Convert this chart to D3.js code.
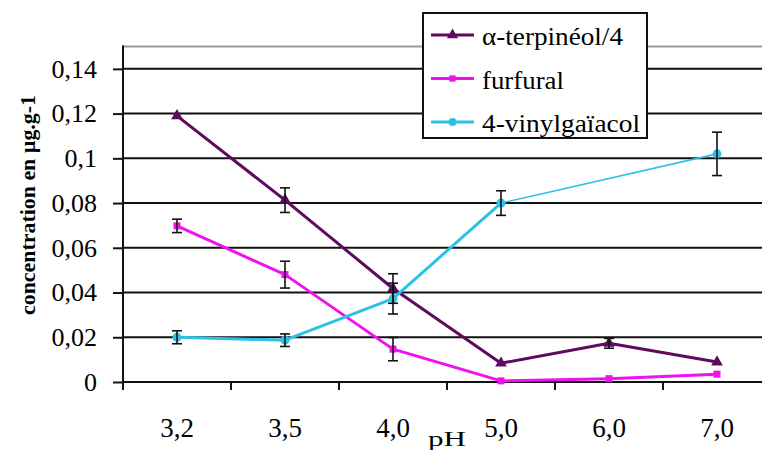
<!DOCTYPE html>
<html>
<head>
<meta charset="utf-8">
<script src="https://cdn.jsdelivr.net/npm/d3@7"></script>
<style>
  html, body { margin: 0; padding: 0; background: #fff; }
  svg { display: block; }
  svg text { font-family: "Liberation Serif", "DejaVu Serif", "Times New Roman", Times, serif !important; fill: #000; }
</style>
</head>
<body>
<svg id="chart" width="762" height="450"></svg>
<script>
// ---- data ----
const categories = ["3,2", "3,5", "4,0", "5,0", "6,0", "7,0"];
const seriesNames = ["α-terpinéol/4", "furfural", "4-vinylgaïacol"];
const terpineol = [0.119, 0.0813, 0.0418, 0.0084, 0.0173, 0.0089];
const terpineolErr = [0, 0.0055, 0.0066, 0, 0.0022, 0];
const furfural = [0.0698, 0.048, 0.0147, 0.0005, 0.0015, 0.0035];
const furfuralErr = [0.003, 0.006, 0.0052, 0, 0, 0];
const vinyl = [0.0200, 0.0187, 0.0373, 0.0800, null, 0.1020];
const vinylErr = [0.0029, 0.0028, 0.0069, 0.0055, 0, 0.0097];
const yTicks = [0, 0.02, 0.04, 0.06, 0.08, 0.1, 0.12, 0.14];
const yTickLabels = ["0", "0,02", "0,04", "0,06", "0,08", "0,1", "0,12", "0,14"];
const yMax = 0.15;
const xTitle = "pH";
const yTitle = "concentration en µg.g-1";

const series = [
  { name: seriesNames[0], values: terpineol, err: terpineolErr, color: "#5e0a5e", marker: "triangle" },
  { name: seriesNames[1], values: furfural, err: furfuralErr, color: "#f010f0", marker: "square" },
  { name: seriesNames[2], values: vinyl, err: vinylErr, color: "#2cc2e8", marker: "circle" }
];

// ---- layout ----
const svg = d3.select("#chart");
const pLeft = 123, pRight = 771, pTop = 46.5, pBottom = 382;
const FONT = "'Liberation Serif', 'DejaVu Serif', 'Times New Roman', serif";

const x = d3.scaleBand().domain(categories).range([pLeft, pRight]).padding(0);
const y = d3.scaleLinear().domain([0, yMax]).range([pBottom, pTop]);
const cx = c => x(c) + x.bandwidth() / 2;

// gridlines
svg.append("g").selectAll("line").data(yTicks.filter(t => t > 0)).join("line")
  .attr("x1", pLeft).attr("x2", pRight)
  .attr("y1", d => y(d)).attr("y2", d => y(d))
  .attr("stroke", "#111").attr("stroke-width", 2);

// top border (plot area)
svg.append("line").attr("x1", pLeft).attr("x2", pRight)
  .attr("y1", y(yMax)).attr("y2", y(yMax))
  .attr("stroke", "#9a9a9a").attr("stroke-width", 2);

// y axis
const yAxis = d3.axisLeft(y).tickValues(yTicks).tickSize(10).tickPadding(16)
  .tickFormat((d, i) => yTickLabels[i]);
const gy = svg.append("g").attr("transform", `translate(${pLeft},0)`).call(yAxis)
  .attr("font-family", FONT);
gy.select(".domain").remove();
gy.selectAll(".tick line").attr("stroke", "#111").attr("stroke-width", 2);
gy.selectAll(".tick text")
  .style("font-family", FONT)
  .attr("font-size", 26).attr("fill", "#222");
svg.append("line").attr("x1", pLeft).attr("x2", pLeft)
  .attr("y1", y(yMax) - 1).attr("y2", pBottom + 1)
  .attr("stroke", "#111").attr("stroke-width", 2);

// x axis
const xTickPos = categories.map(c => x(c)).concat([pRight]);
const gx = svg.append("g").attr("transform", `translate(0,${pBottom})`);
gx.append("line").attr("x1", pLeft).attr("x2", pRight).attr("y1", 0).attr("y2", 0)
  .attr("stroke", "#111").attr("stroke-width", 2);
gx.selectAll("line.tk").data(xTickPos).join("line").attr("class", "tk")
  .attr("x1", d => d).attr("x2", d => d).attr("y1", 0).attr("y2", 8)
  .attr("stroke", "#111").attr("stroke-width", 2);
gx.selectAll("text").data(categories).join("text")
  .attr("x", d => cx(d)).attr("y", 55)
  .attr("text-anchor", "middle")
  .style("font-family", FONT)
  .attr("font-size", 27).attr("fill", "#222")
  .text(d => d);

// axis titles
svg.append("text").attr("x", 447).attr("y", 446)
  .attr("text-anchor", "middle").attr("font-size", 22)
  .style("font-family", FONT)
  .attr("textLength", 38).attr("lengthAdjust", "spacingAndGlyphs")
  .text(xTitle);
svg.append("text")
  .attr("transform", "translate(35,205) rotate(-90)")
  .attr("text-anchor", "middle").attr("font-size", 20).attr("font-weight", "bold")
  .style("font-family", FONT)
  .attr("textLength", 220).attr("lengthAdjust", "spacingAndGlyphs")
  .text(yTitle);

// marker drawing
function drawMarker(g, type, px, py, color, scale) {
  const s = scale || 1;
  if (type === "triangle") {
    g.append("path").attr("d", d3.symbol(d3.symbolTriangle, 60 * s)())
      .attr("transform", `translate(${px},${py})`).attr("fill", color);
  } else if (type === "square") {
    g.append("rect").attr("x", px - 3.5 * s).attr("y", py - 3.5 * s)
      .attr("width", 7 * s).attr("height", 7 * s).attr("fill", color);
  } else {
    g.append("circle").attr("cx", px).attr("cy", py).attr("r", 4.5 * s).attr("fill", color);
  }
}

// series lines
const plot = svg.append("g");
series.forEach(s => {
  const pts = categories.map((c, i) => ({ c, v: s.values[i], e: s.err[i] }));
  const defined = pts.filter(p => p.v !== null);
  for (let k = 0; k < defined.length - 1; k++) {
    const a = defined[k], b = defined[k + 1];
    const gap = categories.indexOf(b.c) - categories.indexOf(a.c) > 1;
    plot.append("path")
      .attr("d", d3.line().x(p => cx(p.c)).y(p => y(p.v))([a, b]))
      .attr("fill", "none").attr("stroke", s.color)
      .attr("stroke-width", gap ? 1.6 : 3).attr("stroke-linecap", "round");
  }
});
// markers
series.forEach(s => {
  categories.forEach((c, i) => {
    if (s.values[i] !== null) drawMarker(plot, s.marker, cx(c), y(s.values[i]), s.color);
  });
});
// error bars
const eb = svg.append("g").attr("stroke", "#111").attr("stroke-width", 1.6);
series.forEach(s => {
  categories.forEach((c, i) => {
    const v = s.values[i], e = s.err[i];
    if (v === null || !e) return;
    const px = cx(c);
    eb.append("line").attr("x1", px).attr("x2", px).attr("y1", y(v + e)).attr("y2", y(v - e));
    eb.append("line").attr("x1", px - 5).attr("x2", px + 5).attr("y1", y(v + e)).attr("y2", y(v + e));
    eb.append("line").attr("x1", px - 5).attr("x2", px + 5).attr("y1", y(v - e)).attr("y2", y(v - e));
  });
});

// legend
const lg = svg.append("g");
lg.append("rect").attr("x", 423).attr("y", 13).attr("width", 224).attr("height", 125)
  .attr("fill", "#fff").attr("stroke", "#111").attr("stroke-width", 2);
const legendWidths = [141, 82, 158];
series.forEach((s, i) => {
  const ly = 35 + i * 43.5;
  lg.append("line").attr("x1", 431).attr("x2", 474).attr("y1", ly).attr("y2", ly)
    .attr("stroke", s.color).attr("stroke-width", 3);
  drawMarker(lg, s.marker, 452.5, ly, s.color, 0.9);
  lg.append("text").attr("x", 482).attr("y", ly + 10)
    .attr("font-size", 26)
    .style("font-family", FONT)
    .attr("textLength", legendWidths[i]).attr("lengthAdjust", "spacingAndGlyphs")
    .text(s.name);
});
</script>
</body>
</html>
